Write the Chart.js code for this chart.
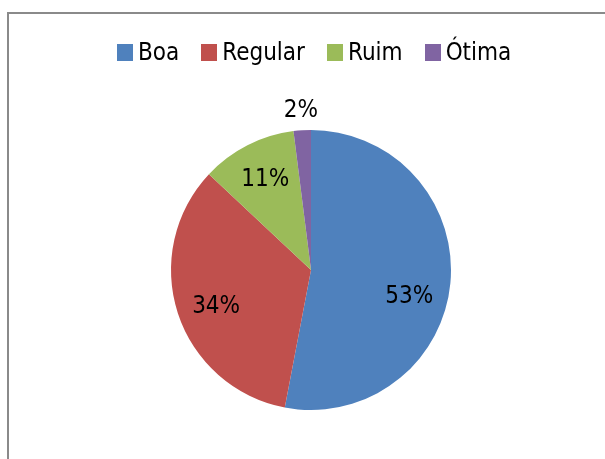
<!DOCTYPE html>
<html>
<head>
<meta charset="utf-8">
<script src="https://cdn.jsdelivr.net/npm/chart.js@4/dist/chart.umd.min.js"></script>
<style>
  html, body { margin: 0; padding: 0; background: #fff; }
  body { width: 605px; height: 459px; overflow: hidden; position: relative; }
  #moldura {
    position: absolute; left: 7px; top: 12px; width: 700px; height: 600px;
    border: 2px solid #8a8a8a; box-sizing: border-box;
  }
  #legenda {
    position: absolute; left: 117px; top: 40px; height: 24px;
    display: flex; align-items: center;
    font-family: "DejaVu Sans Condensed", "DejaVu Sans", sans-serif; font-size: 24px; color: #000;
  }
  #legenda .item { display: flex; align-items: center; margin-right: 22px; line-height: 24px; }
  #legenda .caixa { width: 16px; height: 17px; margin-right: 5px; }
  #chartPizza { position: absolute; left: 0; top: 0; }
</style>
</head>
<body>
<div id="moldura"></div>
<canvas id="chartPizza" width="605" height="459"></canvas>
<div id="legenda"></div>
<script>
// dados do gráfico
var categorias = ['Boa', 'Regular', 'Ruim', 'Ótima'];
var valores = [53, 34, 11, 2];
var cores = ['#4f81bd', '#c0504d', '#9bbb59', '#8064a2'];

// rótulos de porcentagem em cima das fatias
var rotulosPorc = {
    id: 'rotulosPorc',
    afterDatasetsDraw: function (chart, args, opts) {
        var ctx = chart.ctx;
        var meta = chart.getDatasetMeta(0);
        var dados = chart.data.datasets[0].data;
        var total = dados.reduce(function (a, b) { return a + b; }, 0);
        ctx.save();
        ctx.font = opts.font;
        ctx.fillStyle = opts.color;
        ctx.textAlign = 'center';
        ctx.textBaseline = 'middle';
        meta.data.forEach(function (arc, i) {
            var p = arc.getProps(['x', 'y', 'startAngle', 'endAngle', 'outerRadius'], true);
            var meio = (p.startAngle + p.endAngle) / 2;
            var r = p.outerRadius * opts.raio[i];
            var tx = p.x + Math.cos(meio) * r + opts.ajuste[i][0];
            var ty = p.y + Math.sin(meio) * r + opts.ajuste[i][1];
            ctx.fillText(Math.round(dados[i] / total * 100) + '%', tx, ty);
        });
        ctx.restore();
    }
};

// legenda em html
function montarLegenda(chart) {
    var itens = chart.options.plugins.legend.labels.generateLabels(chart);
    var div = document.getElementById('legenda');
    div.innerHTML = '';
    itens.forEach(function (it) {
        var item = document.createElement('div');
        item.className = 'item';
        var caixa = document.createElement('span');
        caixa.className = 'caixa';
        caixa.style.background = it.fillStyle;
        var txt = document.createElement('span');
        txt.textContent = it.text;
        item.appendChild(caixa);
        item.appendChild(txt);
        div.appendChild(item);
    });
}

var ctx = document.getElementById('chartPizza').getContext('2d');
var myChart = new Chart(ctx, {
    type: 'pie',
    data: {
        labels: categorias,
        datasets: [{
            data: valores,
            backgroundColor: cores,
            borderWidth: 0
        }]
    },
    options: {
        responsive: false,
        animation: false,
        layout: {
            padding: { left: 171, right: 154, top: 130, bottom: 49 }
        },
        plugins: {
            legend: { display: false },
            tooltip: { enabled: false },
            rotulosPorc: {
                font: '24px "DejaVu Sans Condensed", "DejaVu Sans", sans-serif',
                color: '#000',
                raio: [0.72, 0.72, 0.72, 1.14],
                ajuste: [[-2, 17], [1, 6], [0, 0], [0, 0]]
            }
        }
    },
    plugins: [rotulosPorc]
});
montarLegenda(myChart);
</script>
</body>
</html>
